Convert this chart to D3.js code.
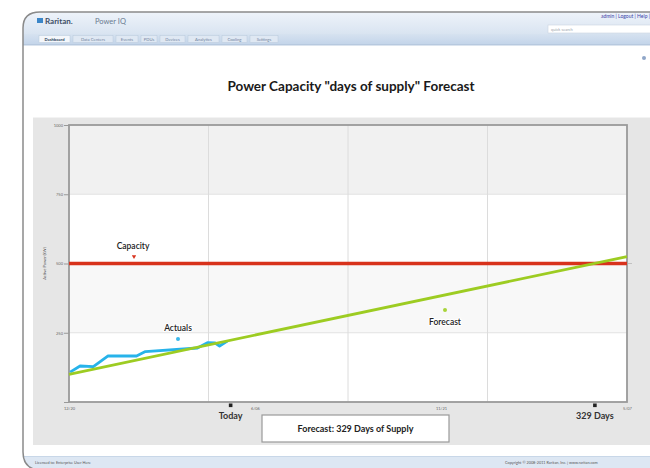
<!DOCTYPE html>
<html>
<head>
<meta charset="utf-8">
<script src="https://cdn.jsdelivr.net/npm/d3@7/dist/d3.min.js"></script>
<style>
  body { margin: 0; background: #fff; }
  text { font-family: Lato, "Open Sans", sans-serif; }
</style>
</head>
<body>
<script>

    // --- data ---
    const actualDays = [1, 10, 22, 35, 61, 69, 116, 125, 132, 136, 143];
    const actualKw = [108, 130, 128, 166, 166, 182, 195, 214, 213, 202, 220];
    const forecastDays = [0, 504];
    const forecastKw = [100, 525];
    const capacityKw = 500;
    const todayDay = 146,
          supplyDays = 329;
    const yTicks = [0, 250, 500, 750, 1000];
    const yTickLabels = ["", "250", "500", "750", "1000"];
    const xTicks = [0, 168, 336, 504];
    const xTickLabels = ["12/20", "6/06", "11/21", "5/07"];
    const xGrid = [0, 126, 252, 378, 504];
    const tabs = ["Dashboard", "Data Centers", "Events", "PDUs", "Devices", "Analytics", "Cooling", "Settings"];

    const W = 650, H = 468;
    const svg = d3.select("body").append("svg")
        .attr("width", W)
        .attr("height", H);

    const defs = svg.append("defs");
    const hg = defs.append("linearGradient").attr("id", "hdr").attr("x1", 0).attr("y1", 0).attr("x2", 0).attr("y2", 1);
    hg.append("stop").attr("offset", "0%").attr("stop-color", "#eef3fa");
    hg.append("stop").attr("offset", "100%").attr("stop-color", "#d9e4f1");
    const tg = defs.append("linearGradient").attr("id", "tabbar").attr("x1", 0).attr("y1", 0).attr("x2", 0).attr("y2", 1);
    tg.append("stop").attr("offset", "0%").attr("stop-color", "#d6e2f0");
    tg.append("stop").attr("offset", "100%").attr("stop-color", "#c4d5ea");

    // app window with rounded left corners
    const win = "M36,470 Q23,468 23,452 L23,28 Q23,12 40,12 L650,12 L650,470 Z";
    svg.append("clipPath").attr("id", "winclip").append("path").attr("d", win);
    const app = svg.append("g").attr("clip-path", "url(#winclip)");

    app.append("rect").attr("x", 0).attr("y", 0).attr("width", W).attr("height", H).attr("fill", "#fff");
    app.append("rect").attr("x", 0).attr("y", 12).attr("width", W).attr("height", 22).attr("fill", "url(#hdr)");
    app.append("rect").attr("x", 0).attr("y", 34).attr("width", W).attr("height", 10).attr("fill", "url(#tabbar)");
    app.append("rect").attr("x", 0).attr("y", 44).attr("width", W).attr("height", 1.5).attr("fill", "#b7c9df");
    app.append("rect").attr("x", 0).attr("y", 457).attr("width", W).attr("height", 11).attr("fill", "#dde7f3");
    app.append("rect").attr("x", 0).attr("y", 456).attr("width", W).attr("height", 1).attr("fill", "#c8d7e8");

    svg.append("path")
        .attr("d", "M38,470 Q23,468 23,452 L23,28 Q23,12 40,12 L652,12")
        .attr("fill", "none")
        .attr("stroke", "#8a8a8a")
        .attr("stroke-width", 1.5);

    // logo + product name
    app.append("rect").attr("x", 37).attr("y", 18).attr("width", 6).attr("height", 5).attr("fill", "#3b86c8");
    app.append("text").attr("x", 45).attr("y", 23.5).attr("font-size", 8).attr("font-weight", "bold")
        .attr("fill", "#3d4e66").text("Raritan.");
    app.append("text").attr("x", 95).attr("y", 23.5).attr("font-size", 7.5)
        .attr("fill", "#6a7a90").text("Power IQ");

    // top-right links and search box
    app.append("text").attr("x", 650).attr("y", 18).attr("text-anchor", "end").attr("font-size", 5)
        .attr("fill", "#3a3fa8").text("admin | Logout | Help |");
    app.append("rect").attr("x", 548).attr("y", 25).attr("width", 104).attr("height", 8)
        .attr("fill", "#fff").attr("stroke", "#c9d4e2").attr("stroke-width", 0.6);
    app.append("text").attr("x", 551).attr("y", 31).attr("font-size", 4).attr("fill", "#9aa3ad").text("quick search");

    // tab row
    let tx = 39;
    tabs.forEach((t, i) => {
        const wTab = t.length * 3 + 4;
        app.append("rect").attr("x", tx).attr("y", 35.5).attr("width", wTab).attr("height", 7)
            .attr("fill", i === 0 ? "#f4f7fb" : "#dfe8f3")
            .attr("stroke", "#b9c9dc").attr("stroke-width", 0.5);
        app.append("text").attr("x", tx + wTab / 2).attr("y", 40.8).attr("text-anchor", "middle")
            .attr("font-size", 4.2).attr("font-weight", i === 0 ? "bold" : "normal")
            .attr("fill", i === 0 ? "#2c3e5a" : "#6f83a0").text(t);
        tx += wTab + 3;
    });

    app.append("circle").attr("cx", 644).attr("cy", 58).attr("r", 2).attr("fill", "#8fa6c8");

    // footer text
    app.append("text").attr("x", 35).attr("y", 464).attr("font-size", 3.8).attr("fill", "#555")
        .text("Licensed to: Enterprise User Here");
    app.append("text").attr("x", 505).attr("y", 464).attr("font-size", 3.8).attr("fill", "#555")
        .text("Copyright © 2008-2011 Raritan, Inc. | www.raritan.com");

    // title
    app.append("text").attr("x", 351).attr("y", 91).attr("text-anchor", "middle")
        .attr("font-size", 13.5).attr("font-weight", "bold").attr("fill", "#1a1a1a")
        .text("Power Capacity \"days of supply\" Forecast");

    // chart panel
    app.append("rect").attr("x", 33).attr("y", 117).attr("width", W - 33).attr("height", 328)
        .attr("fill", "#e6e6e6");
    app.append("rect").attr("x", 33).attr("y", 117).attr("width", W - 33).attr("height", 1)
        .attr("fill", "#f3f3f3");

    const x = d3.scaleLinear().domain([0, 504]).range([69, 627]);
    const y = d3.scaleLinear().domain([0, 1000]).range([402, 125]);

    const plot = app.append("g");
    plot.append("rect").attr("x", x(0)).attr("y", y(1000)).attr("width", x(504) - x(0)).attr("height", y(0) - y(1000))
        .attr("fill", "#fff");

    // alternating bands
    const bandFill = ["#fff", "#f8f8f8", "#fff", "#f1f1f1"];
    yTicks.slice(0, -1).forEach((v, i) => {
        plot.append("rect").attr("x", x(0)).attr("y", y(yTicks[i + 1]))
            .attr("width", x(504) - x(0)).attr("height", y(v) - y(yTicks[i + 1]))
            .attr("fill", bandFill[i]);
    });

    plot.selectAll("line.hgrid").data(yTicks.slice(1, -1)).join("line")
        .attr("x1", x(0)).attr("x2", x(504))
        .attr("y1", d => y(d)).attr("y2", d => y(d))
        .attr("stroke", "#e2e2e2").attr("stroke-width", 1);
    plot.selectAll("line.vgrid").data(xGrid.slice(1, -1)).join("line")
        .attr("x1", d => x(d)).attr("x2", d => x(d))
        .attr("y1", y(1000)).attr("y2", y(0))
        .attr("stroke", "#dcdcdc").attr("stroke-width", 1);

    // axes
    const yAxis = d3.axisLeft(y).tickValues(yTicks).tickFormat((d, i) => yTickLabels[i]).tickSize(5).tickPadding(1);
    const ya = plot.append("g").attr("transform", `translate(${x(0)},0)`).call(yAxis);
    ya.select(".domain").remove();
    ya.selectAll("line").attr("stroke", "#999");
    ya.selectAll("text").attr("font-size", 4).attr("fill", "#666").attr("font-family", "Lato, sans-serif");

    const xAxis = d3.axisBottom(x).tickValues(xTicks).tickFormat((d, i) => xTickLabels[i]).tickSize(0).tickPadding(5);
    const xa = plot.append("g").attr("transform", `translate(0,${y(0)})`).call(xAxis);
    xa.select(".domain").remove();
    xa.selectAll("text").attr("font-size", 4).attr("fill", "#666").attr("font-family", "Lato, sans-serif");

    plot.append("rect").attr("x", x(0)).attr("y", y(1000)).attr("width", x(504) - x(0)).attr("height", y(0) - y(1000))
        .attr("fill", "none").attr("stroke", "#9a9a9a").attr("stroke-width", 1.8);

    plot.append("text")
        .attr("transform", `translate(46,${y(500)}) rotate(-90)`)
        .attr("text-anchor", "middle").attr("font-size", 4).attr("fill", "#555")
        .text("Active Power (kW)");

    // capacity line
    plot.append("line")
        .attr("x1", x(0)).attr("x2", x(504))
        .attr("y1", y(capacityKw)).attr("y2", y(capacityKw))
        .attr("stroke", "#d8321c").attr("stroke-width", 3.5);
    plot.append("line")
        .attr("x1", x(504)).attr("x2", x(504) + 5)
        .attr("y1", y(capacityKw)).attr("y2", y(capacityKw))
        .attr("stroke", "#aaa").attr("stroke-width", 0.6);

    const line = d3.line().x(d => x(d[0])).y(d => y(d[1]));

    plot.append("path")
        .datum(d3.zip(actualDays, actualKw))
        .attr("d", line)
        .attr("fill", "none").attr("stroke", "#27b3ea").attr("stroke-width", 2.8)
        .attr("stroke-linejoin", "round");

    plot.append("path")
        .datum(d3.zip(forecastDays, forecastKw))
        .attr("d", line)
        .attr("fill", "none").attr("stroke", "#9dcc22").attr("stroke-width", 2.8);

    // series labels
    function seriesLabel(lx, ly, txt, mx, my, color, shape) {
        plot.append("text").attr("x", lx).attr("y", ly).attr("text-anchor", "middle")
            .attr("font-size", 8.5).attr("font-weight", 600).attr("fill", "#222")
            .attr("stroke", "#fff").attr("stroke-width", 2).attr("paint-order", "stroke")
            .text(txt);
        if (shape === "tri") {
            plot.append("path").attr("d", `M${mx - 2.2},${my - 1.8} L${mx + 2.2},${my - 1.8} L${mx},${my + 2} Z`)
                .attr("fill", color);
        } else {
            plot.append("circle").attr("cx", mx).attr("cy", my).attr("r", 2).attr("fill", color);
        }
    }
    seriesLabel(133, 249, "Capacity", 134, 257, "#d8321c", "tri");
    seriesLabel(178, 331, "Actuals", 178, 339, "#3ab8ea", "dot");
    seriesLabel(445, 325, "Forecast", 445, 310, "#a8d43a", "dot");

    // today / 329 days markers
    [[todayDay, "Today"], [todayDay + supplyDays, supplyDays + " Days"]].forEach(([d, t]) => {
        plot.append("rect").attr("x", x(d) - 1.8).attr("y", 403.5).attr("width", 3.6).attr("height", 3.6)
            .attr("fill", "#222");
        plot.append("text").attr("x", x(d)).attr("y", 419).attr("text-anchor", "middle")
            .attr("font-size", 9).attr("font-weight", "bold").attr("fill", "#333").text(t);
    });

    // summary box
    plot.append("rect").attr("x", 262).attr("y", 415).attr("width", 187).attr("height", 27)
        .attr("fill", "#fff").attr("stroke", "#9a9a9a").attr("stroke-width", 1.2);
    plot.append("text").attr("x", 355.5).attr("y", 432).attr("text-anchor", "middle")
        .attr("font-size", 9).attr("font-weight", "bold").attr("fill", "#222")
        .text(`Forecast: ${supplyDays} Days of Supply`);

</script>
</body>
</html>
